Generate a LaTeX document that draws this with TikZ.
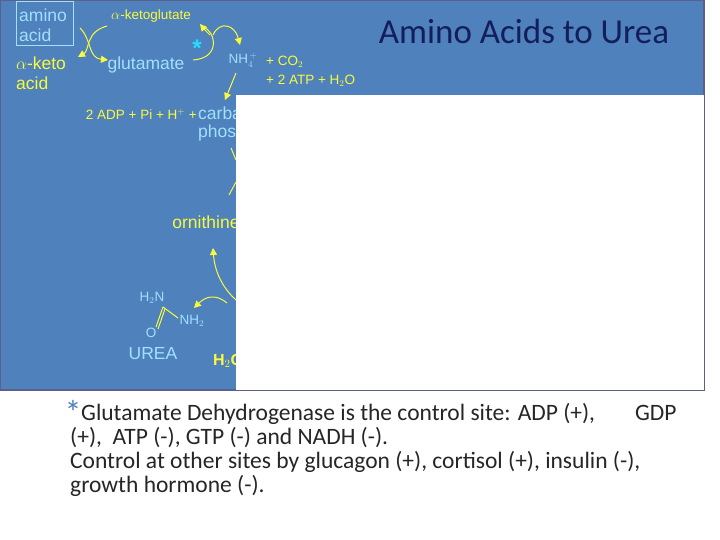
\documentclass[tikz,border=0pt]{standalone}
\usepackage{fontspec}
\setmainfont{Liberation Sans}
\newfontfamily\carlitofont{Carlito}
\usetikzlibrary{arrows.meta}
\definecolor{bg}{RGB}{79,129,189}
\definecolor{lb}{RGB}{160,225,255}
\definecolor{yl}{RGB}{250,250,60}
\definecolor{navy}{RGB}{20,30,90}
\definecolor{cy}{RGB}{40,220,255}
\tikzset{
 lbt/.style={text=lb,inner sep=0pt,font=\fontsize{17.5}{19}\selectfont},
 ylt/.style={text=yl,inner sep=0pt,font=\fontsize{17.5}{19}\selectfont},
 sml/.style={inner sep=0pt,font=\fontsize{13.5}{15}\selectfont},
 arr/.style={yl,line width=1pt,-{Triangle[length=7pt,width=7pt]}},
 ln/.style={yl,line width=1pt},
 body/.style={anchor=west,inner sep=0pt,text=black!85,font=\carlitofont\fontsize{23.5}{24}\selectfont}
}
\begin{document}
\begin{tikzpicture}[x=1pt,y=-1pt]
\useasboundingbox (0,0) rectangle (720,540);
\fill[white] (0,0) rectangle (720,540);
\fill[bg] (0,0) rectangle (704,390);
\draw[navy!70,line width=1.5pt] (0,0) rectangle (704,390);
% box
\draw[lb,line width=0.8pt] (16,1) rectangle (73,45);
\node[lbt,anchor=west] (amino) at (19,15) {amino};
\node[lbt,anchor=west] (acid) at (19,35) {acid};
\node[ylt,sml,text=yl] (akg) at (151,16) {$\alpha$-ketoglutate};
\node[ylt,anchor=west] (ak) at (16,63) {$\alpha$-keto};
\node[ylt,anchor=west] (ak2) at (16,83) {acid};
\node[lbt] (glu) at (146,65) {glutamate};
\node[text=cy,inner sep=0pt,font=\bfseries\fontsize{24}{24}\selectfont] (star) at (197,48) {*};
\node[lbt,sml] (nh4) at (243,60) {NH$_4^{\,+}$};
\node[ylt,sml,anchor=west] (co2) at (266,62) {+ CO$_2$};
\node[ylt,sml,anchor=west] (atp) at (266,81) {+ 2 ATP + H$_2$O};
\node[ylt,sml,anchor=east] (adp) at (197,114) {2 ADP + Pi + H$^+$ +};
\node[lbt,anchor=west] (carb) at (198,113) {carba};
\node[lbt,anchor=west] (phos) at (198,133) {phos};
\node[ylt] (orn) at (206,222) {ornithine};
\node[lbt,sml] (h2n) at (152,298) {H$_2$N};
\node[lbt,sml] (nh2) at (192,321) {NH$_2$};
\node[lbt,sml] (o) at (151,333) {O};
\node[lbt] (urea) at (153,354) {UREA};
\node[ylt,font=\bfseries\fontsize{16}{18}\selectfont] (h2o) at (228,361) {H$_2$O};
\coordinate (c1) at (163,307);
\draw[ln] (c1) -- (178,318);
\draw[ln] (c1) -- (156,327);
\draw[ln] (165,309) -- (158,329);
% transamination arrows
\coordinate (a1) at (107,26);
\draw[arr] (a1) .. controls (85,32) and (90,50) .. (78,57);
\draw[arr] (80,28) .. controls (92,40) and (88,58) .. (108,60);
\draw[ln] (193,60) .. controls (222,58) and (215,30) .. (203,27);
\draw[arr] (210,35) .. controls (205,30) .. (200,24);
\draw[arr] (213,35) .. controls (220,20) and (235,25) .. (240,45);
\draw[arr] (236,73) -- (225,100);
\draw[ln] (231,148) -- (236,160);
\draw[ln] (229,195) -- (236,182);
\draw[arr] (236,300) .. controls (225,290) and (215,275) .. (213,248);
\draw[arr] (227,303) .. controls (215,293) and (205,297) .. (194,308);
% white panel
\fill[white] (236,95) rectangle (704,390);
\node[text=navy,inner sep=0pt,font=\carlitofont\fontsize{35}{36}\selectfont] (title) at (524,31) {Amino Acids to Urea};
\node[text=bg,inner sep=0pt,font=\carlitofont\fontsize{34}{34}\selectfont] (st) at (73,412) {*};
\node[body] (l1) at (81,414) {Glutamate Dehydrogenase is the control site: ADP (+),\hspace{40pt}GDP};
\node[body] (l2) at (70,438) {(+),~ ATP (-), GTP (-) and NADH (-).};
\node[body] (l3) at (70,462) {Control at other sites by glucagon (+), cortisol (+), insulin (-),};
\node[body] (l4) at (70,486) {growth hormone (-).};
\end{tikzpicture}
\end{document}
